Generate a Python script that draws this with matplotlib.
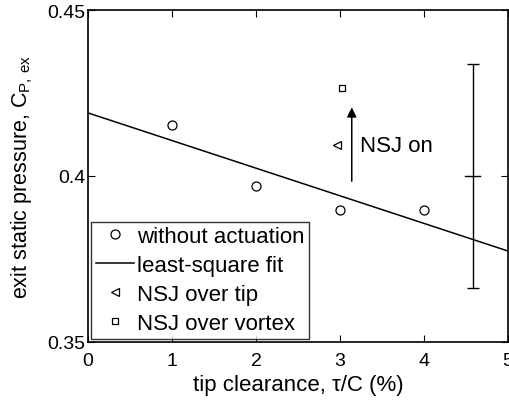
import matplotlib
matplotlib.use("Agg")
import matplotlib.pyplot as plt
import numpy as np

plt.rcParams['font.family'] = ['Liberation Sans', 'DejaVu Sans']
plt.rcParams['mathtext.fontset'] = 'custom'
plt.rcParams['mathtext.rm'] = 'Liberation Sans'

# data
tip_clear = [1, 2, 3, 4]
cp_ex = [0.4155, 0.397, 0.3898, 0.3898]
fit_x = [0, 5]
fit_y = [0.419, 0.3774]
tip_x, tip_y = [2.96], [0.4093]
vortex_x, vortex_y = [3.02], [0.4265]
err_x, err_y, err_h = 4.58, 0.40, 0.0337

fig = plt.figure(figsize=(5.09, 4.02), dpi=100)
ax = fig.add_axes([88/509, 1-343/402, 420/509, 332/402])

ax.plot(tip_clear, cp_ex, 'o', mfc='none', mec='k', ms=6.5, mew=0.9, label='without actuation')
ax.plot(fit_x, fit_y, 'k-', lw=1.1, label='least-square fit')
ax.plot(tip_x, tip_y, '<', mfc='none', mec='k', ms=6, mew=0.9, label='NSJ over tip')
ax.plot(vortex_x, vortex_y, 's', mfc='none', mec='k', ms=4.5, mew=0.9, label='NSJ over vortex')
ax.errorbar([err_x], [err_y], yerr=[err_h], fmt='none', ecolor='k', elinewidth=1, capsize=4.3, capthick=1)
ax.plot([err_x - 0.09, err_x + 0.09], [err_y, err_y], 'k-', lw=1)

ax.annotate('', xy=(3.14, 0.4215), xytext=(3.14, 0.3976),
            arrowprops=dict(arrowstyle='-|>', color='k', lw=1.1, mutation_scale=14))
ax.text(3.24, 0.4093, 'NSJ on', fontsize=16, va='center', ha='left')

ax.set_xlim(0, 5)
ax.set_ylim(0.35, 0.45)
ax.set_xticks([0, 1, 2, 3, 4, 5])
ax.set_yticks([0.35, 0.4, 0.45])
ax.set_yticklabels(['0.35', '0.4', '0.45'])
ax.tick_params(direction='in', top=True, right=True, labelsize=14, length=5)
ax.tick_params(axis='x', pad=7.5)
ax.tick_params(axis='y', pad=2)
for s in ax.spines.values():
    s.set_linewidth(1.2)
ax.set_xlabel('tip clearance, τ/C (%)', fontsize=16, labelpad=3)
ax.set_ylabel(r'exit static pressure, C$_{\mathrm{P,\,ex}}$', fontsize=15.5, labelpad=9)

leg = ax.legend(loc='lower left', fontsize=16, frameon=True, fancybox=False,
                edgecolor='k', handlelength=1.7, handletextpad=0.15, borderpad=0.2,
                labelspacing=0.36, borderaxespad=0.15)
leg.get_frame().set_linewidth(1)

fig.savefig('out.png', dpi=100)
